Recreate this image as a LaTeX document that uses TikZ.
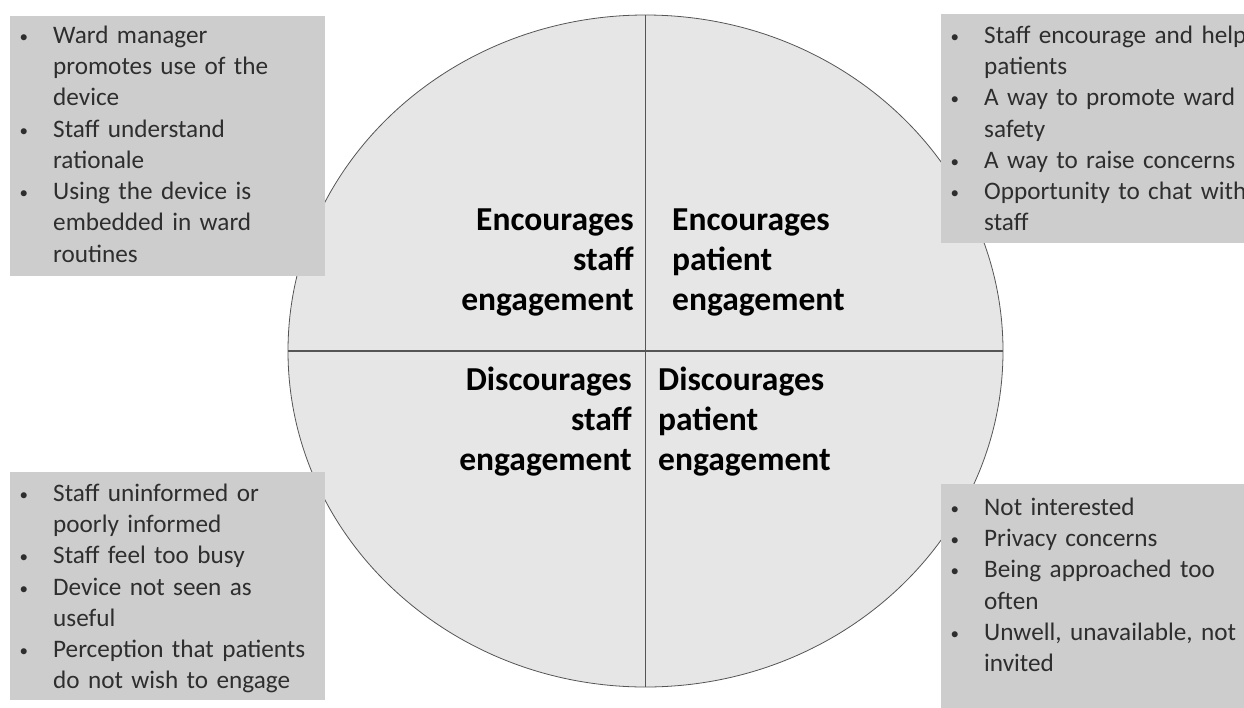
\documentclass[tikz,border=0pt]{standalone}
\usepackage{fontspec}
\setmainfont{Carlito}
\usetikzlibrary{shapes.geometric}
\definecolor{boxgray}{HTML}{CDCDCD}
\definecolor{discgray}{HTML}{E6E6E6}
\definecolor{linegray}{HTML}{555555}
\definecolor{textgray}{HTML}{2E2E2E}
\newcommand{\brk}{\newline\strut}
\newcommand{\bul}[1]{\hangindent=29pt\hangafter=1\noindent\strut
    \makebox[29pt][l]{\hspace*{-4.5pt}\raisebox{1pt}{\fontsize{17}{17}\selectfont\textbullet}}#1\par}
\begin{document}
\begin{tikzpicture}[x=1pt,y=-1pt,
        listbox/.style={fill=boxgray,draw=none,inner sep=0,anchor=north west},
        listtext/.style={anchor=north west,inner sep=0,text width=330pt,align=left,
            text=textgray,font=\fontsize{25.2}{31.3}\selectfont},
        quadtext/.style={inner sep=0,font=\fontsize{33.5}{40}\selectfont\bfseries},
        divider/.style={draw=linegray,line width=1.1pt}]
                \useasboundingbox (0,0) rectangle (1244,707);
                %% Disc
                \node[ellipse,draw=linegray,line width=0.8pt,fill=discgray,
                    minimum width=715,minimum height=672,inner sep=0] (disc) at (645.5,351) {};
                \draw[divider] (disc.north) -- (disc.south);
                \draw[divider] (disc.west) -- (disc.east);
                %% Quadrant labels
                \node[quadtext,align=right,anchor=north east] (encstaff) at (634,202)
                    {\strut Encourages\\\strut staff\\\strut engagement};
                \node[quadtext,align=left,anchor=north west] (encpatient) at (672,202)
                    {\strut Encourages\\\strut patient\\\strut engagement};
                \node[quadtext,align=right,anchor=north east] (discstaff) at (632,362)
                    {\strut Discourages\\\strut staff\\\strut engagement};
                \node[quadtext,align=left,anchor=north west] (discpatient) at (658,362)
                    {\strut Discourages\\\strut patient\\\strut engagement};
                %% Boxes
                \node[listbox,minimum width=315,minimum height=260] (tlbox) at (10,16) {};
                \node[listbox,minimum width=310,minimum height=229] (trbox) at (941,14) {};
                \node[listbox,minimum width=315,minimum height=228] (blbox) at (10,472) {};
                \node[listbox,minimum width=310,minimum height=230] (brbox) at (941,484) {};
                %% Box texts
                \node[listtext] (tllist) at ([shift={(14,5)}]tlbox.north west) {%
                    \bul{Ward manager\brk promotes use of the\brk device}
                    \bul{Staff understand\brk rationale}
                    \bul{Using the device is\brk embedded in ward\brk routines}};
                \node[listtext] (trlist) at ([shift={(14,7)}]trbox.north west) {%
                    \bul{Staff encourage and help\brk patients}
                    \bul{A way to promote ward\brk safety}
                    \bul{A way to raise concerns}
                    \bul{Opportunity to chat with\brk staff}};
                \node[listtext] (bllist) at ([shift={(14,7)}]blbox.north west) {%
                    \bul{Staff uninformed or\brk poorly informed}
                    \bul{Staff feel too busy}
                    \bul{Device not seen as\brk useful}
                    \bul{Perception that patients\brk do not wish to engage}};
                \node[listtext] (brlist) at ([shift={(14,9)}]brbox.north west) {%
                    \bul{Not interested}
                    \bul{Privacy concerns}
                    \bul{Being approached too\brk often}
                    \bul{Unwell, unavailable, not\brk invited}};
            \end{tikzpicture}
\end{document}
